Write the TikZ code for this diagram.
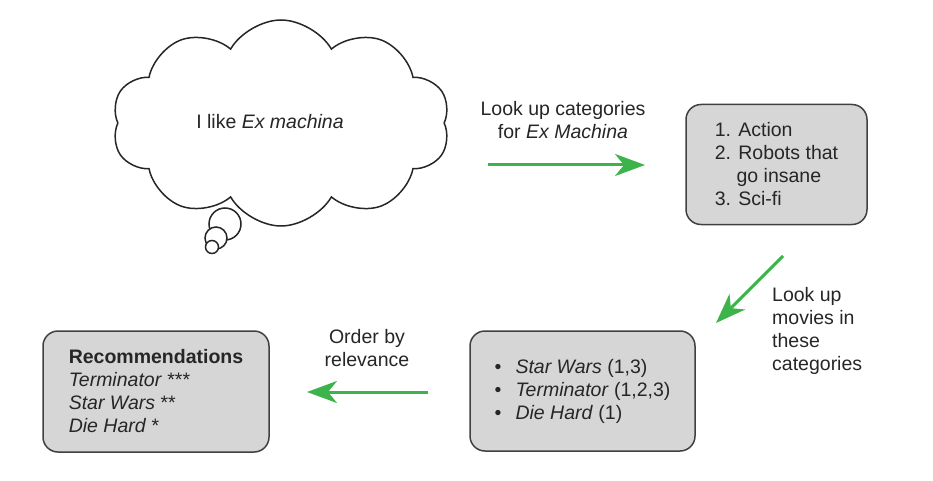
\documentclass[tikz,border=0pt]{standalone}
\usepackage{fontspec}
\setmainfont{Liberation Sans}
\usetikzlibrary{arrows.meta,shapes.symbols}
\definecolor{arrowgreen}{RGB}{60,180,75}
\definecolor{boxgray}{RGB}{214,214,214}
\definecolor{boxline}{RGB}{64,64,64}
\tikzstyle{txt} = [font={\fontsize{19.5}{23}\selectfont}, text=black!85, inner sep=0pt]
\tikzstyle{box} = [txt, draw=boxline, fill=boxgray, line width=1.5pt, rounded corners=15pt, align=left]
\tikzstyle{thought} = [draw=black!85, line width=1.5pt, fill=white]
\tikzstyle{flow} = [draw=arrowgreen, line width=3pt, -{Stealth[length=30pt,width=22pt,inset=9pt]}]

\begin{document}
\begin{tikzpicture}[x=1pt,y=-1pt]
    \useasboundingbox (0,0) rectangle (933,481);
    \node[thought,cloud,cloud puffs=10,cloud puff arc=120,aspect=1.7,minimum width=338pt,minimum height=206pt](like) at (281,123){};
    \node[thought,circle,minimum size=32pt,inner sep=0pt](b1) at (225,224){};
    \node[thought,circle,minimum size=22pt,inner sep=0pt](b2) at (216,238){};
    \node[thought,circle,minimum size=13pt,inner sep=0pt](b3) at (212,247){};
    \node[txt](liketext) at (270,122){I like \textit{Ex machina}};
    \node[box,minimum width=181pt,minimum height=120pt](cats) at (776.5,164.5){1. Action\\2. Robots that\\\hspace{21.7pt}go insane\\3. Sci-fi};
    \node[box,minimum width=225pt,minimum height=120pt](movies) at (582.5,391){\makebox[21pt][l]{\textbullet}\textit{Star Wars} (1,3)\\\makebox[21pt][l]{\textbullet}\textit{Terminator} (1,2,3)\\\makebox[21pt][l]{\textbullet}\textit{Die Hard} (1)};
    \node[box,minimum width=226pt,minimum height=121pt](recs) at (156,391.5){\textbf{Recommendations}\\\textit{Terminator} ***\\\textit{Star Wars} **\\\textit{Die Hard} *};
    \node[txt,align=center](l1) at (563,120){Look up categories\\for \textit{Ex Machina}};
    \node[txt,align=left,anchor=west](l2) at (772,331){Look up\\movies in\\these\\categories};
    \node[txt,align=center](l3) at (367,348){Order by\\relevance};
    \coordinate (a1) at (488,165);
    \coordinate (a2) at (645,165);
    \coordinate (a3) at (783,256);
    \coordinate (a4) at (716,323);
    \coordinate (a5) at (428,392);
    \coordinate (a6) at (307,392);
    \draw[flow](a1)--(a2);
    \draw[flow](a3)--(a4);
    \draw[flow](a5)--(a6);
  \end{tikzpicture}
\end{document}
